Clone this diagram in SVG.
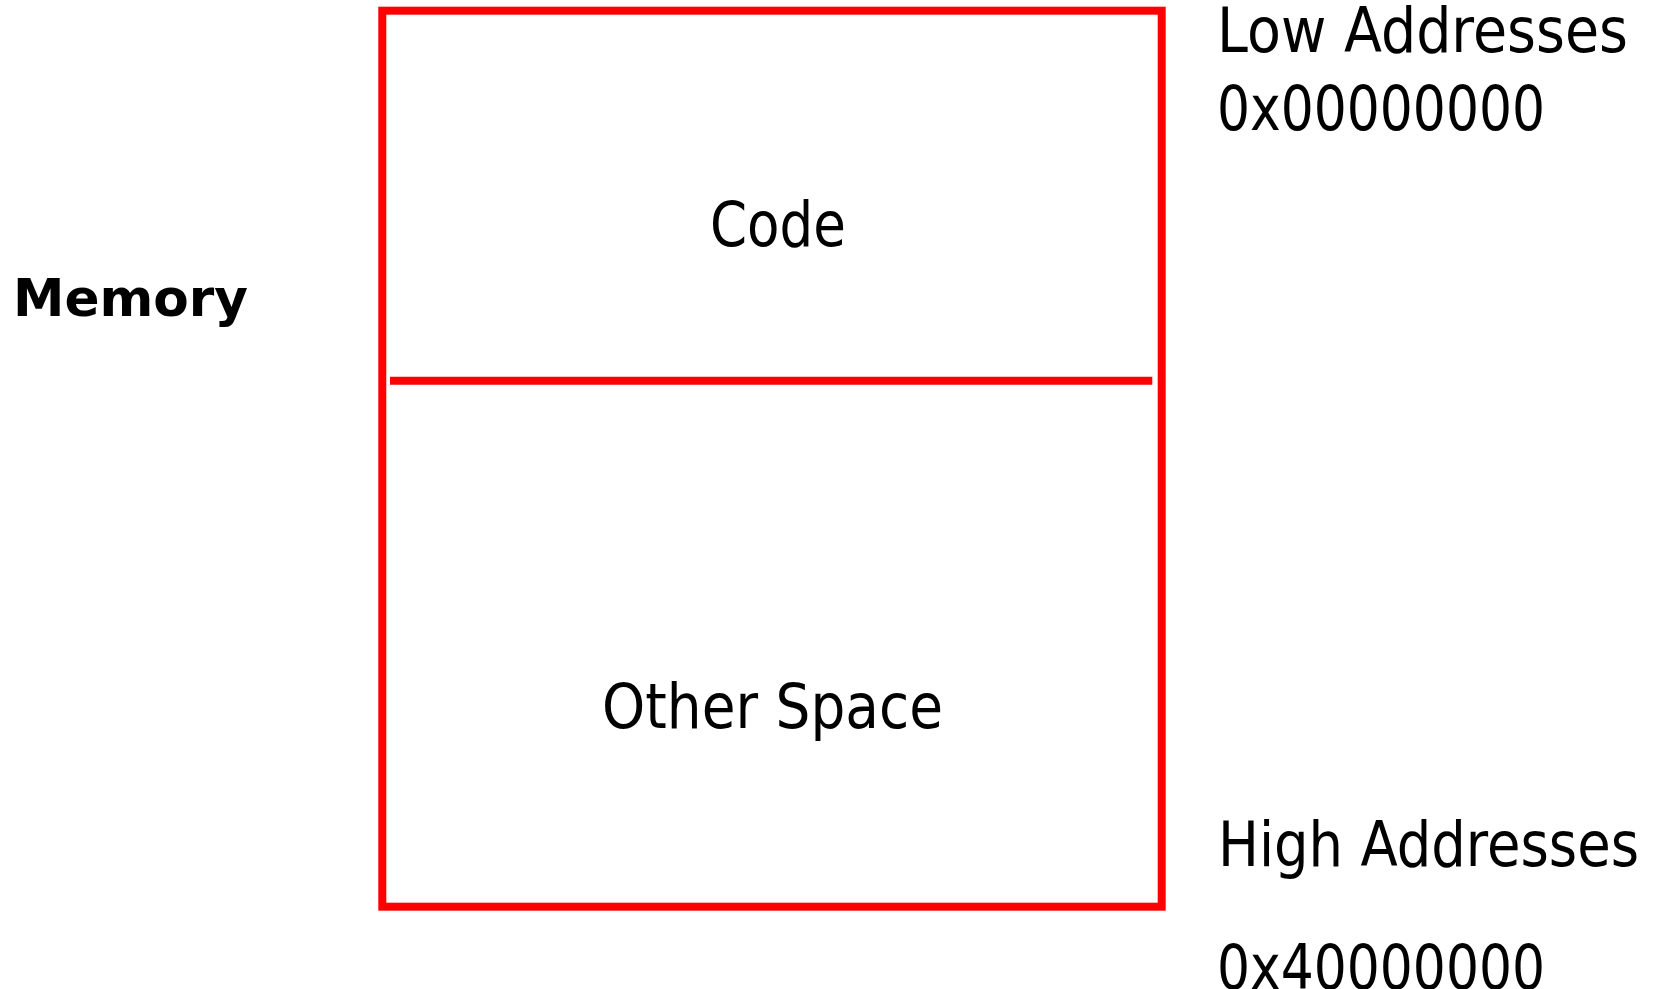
<svg xmlns="http://www.w3.org/2000/svg" width="1656" height="989" viewBox="0 0 1656 989">
<style>
.t{font-family:"DejaVu Sans","Liberation Sans",sans-serif;font-size:63px;fill:#000}
.b{font-family:"DejaVu Sans","Liberation Sans",sans-serif;font-size:51px;font-weight:bold;fill:#000}
.red{fill:none;stroke:#ff0000;stroke-width:8}
</style>
<rect width="1656" height="989" fill="#fff"/>
<g id="memory-box">
<rect class="red" x="382.3" y="10.7" width="779.4" height="896"/>
</g>
<g id="connectors">
<line class="red" x1="390" y1="380.8" x2="1152.3" y2="380.8" stroke-width="7.7"/>
</g>
<g id="code">
<text class="t" x="710" y="246" textLength="136" lengthAdjust="spacingAndGlyphs">Code</text>
</g>
<g id="other-space">
<text class="t" x="602" y="728" textLength="341" lengthAdjust="spacingAndGlyphs">Other Space</text>
</g>
<g id="memory-label">
<text class="b" x="13" y="316" textLength="235" lengthAdjust="spacingAndGlyphs">Memory</text>
</g>
<g id="low-addresses">
<text class="t" x="1217" y="52" textLength="411" lengthAdjust="spacingAndGlyphs">Low Addresses</text>
<text class="t" x="1217" y="130" textLength="328" lengthAdjust="spacingAndGlyphs">0x00000000</text>
</g>
<g id="high-addresses">
<text class="t" x="1218" y="866" textLength="421" lengthAdjust="spacingAndGlyphs">High Addresses</text>
<text class="t" x="1217" y="989" textLength="328" lengthAdjust="spacingAndGlyphs">0x40000000</text>
</g>
</svg>
